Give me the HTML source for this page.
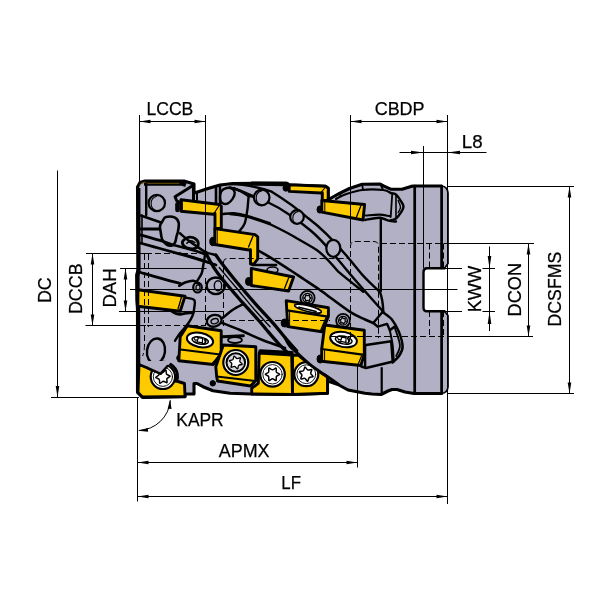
<!DOCTYPE html>
<html><head><meta charset="utf-8"><title>Milling cutter dimensions</title>
<style>
html,body{margin:0;padding:0;background:#fff;}
body{width:600px;height:600px;overflow:hidden;font-family:"Liberation Sans",sans-serif;}
svg{display:block;will-change:transform;}
svg text{font-family:"Liberation Sans",sans-serif;font-size:19.05px;fill:#000;stroke:#000;stroke-width:0.25px;}
</style></head>
<body>
<svg width="600" height="600" viewBox="0 0 600 600" role="img" aria-label="Milling cutter dimension drawing">
<rect width="600" height="600" fill="#fff"/>
<g id="cutter" stroke-linejoin="round" stroke-linecap="round">
<!-- silhouette -->
<path id="silfill" fill="#b1b0c4" stroke="none" d="M137.5,187 L140,182.5 L145,181 L184,181 L194,184 L194,193 L196,192.5 L208,188.5 L220,185 L233,183.5 L287,183.3 L289.2,184.9 L325.5,186.3 L328.2,188.2 L328.2,200 L332,197.5 L339,193.7 L349.5,188.5 L362.2,184.3 L380.2,184 L384,186.2 L390.7,189.2 L402,189.2 L411,186.4 L414,186 L441.5,186 Q447.5,186.5 448,193 L448,263.5 L444.5,268.3 L427,268.3 Q423.5,268.3 423.5,272 L423.5,307.5 Q423.5,311.3 427,311.3 L444.5,311.3 L448,315.5 L448,387 Q447.5,393 441.5,393.5 L414,393.5 L405,392 L397,389.5 L392,389.5 L388,391 L381,394.5 L372,394 L365,393.3 L348,390 L338,384.5 L330,381.7 L327.5,381.7 L327.5,393.3 L292.5,394.5 L251.7,394 L230,393.3 L213,390.8 L203,386.7 L197,383.5 L194,383.5 L194,394 L185,394 L185,396.7 L142.5,397.5 L137.5,392.5 L137.5,310 L137,300 L136.7,275 L138,270 Z"/>
<path id="silthick" fill="none" stroke="#000" stroke-width="3.1" d="M441.5,393.5 L414,393.5 L405,392 L397,389.5 L392,389.5 L388,391 L381,394.5 L372,394 L365,393.3 L348,390 L338,384.5 L330,381.7 L327.5,381.7 L327.5,393.3 L292.5,394.5 L251.7,394 L230,393.3 L213,390.8 L203,386.7 L197,383.5 L194,383.5 L194,394 L185,394 L185,396.7 L142.5,397.5 L137.5,392.5 L137.5,310 L137,300 L136.7,275 L138,270 L137.5,187 L140,182.5 L145,181 L184,181 L194,184 L194,193 L196,192.5 L208,188.5 L220,185 L233,183.5 L287,183.3 L289.2,184.9 L325.5,186.3 L328.2,188.2 L328.2,200 L332,197.5 L339,193.7 L349.5,188.5 L362.2,184.3 L380.2,184 L384,186.2 L390.7,189.2 L402,189.2 L411,186.4 L414,186 L441.5,186"/>
<path id="leftedge" fill="none" stroke="#000" stroke-width="4" stroke-linecap="butt" d="M138.4,188 L138.6,270 L137.6,276 L137.6,300 L138.2,310 L138.3,391"/>
<path fill="none" stroke="#000" stroke-width="4.4" stroke-linecap="round" d="M252,183.6 L286.5,184"/>
<path id="silthin" fill="none" stroke="#000" stroke-width="1.7" d="M441.5,186 Q447.5,186.5 448,193 L448,263.5 L444.5,268.3 M444.5,311.3 L448,315.5 L448,387 Q447.5,393 441.5,393.5"/>
<path id="keyway" fill="none" stroke="#000" stroke-width="2.4" d="M444.5,268.3 L427,268.3 Q423.5,268.3 423.5,272 L423.5,307.5 Q423.5,311.3 427,311.3 L444.5,311.3"/>

<!-- ===== internal lines (gray body features) ===== -->
<g fill="none" stroke="#000" stroke-width="2.4">
<!-- left block -->
<path stroke-width="5" stroke-linecap="butt" d="M144,183.3 H182.5 L186,184.6"/>
<path stroke="#6a5200" stroke-width="1" d="M146.5,183.3 H179 M139.5,185.3 L142,182.8 L145.5,182.2"/>
<path stroke-width="3" d="M193.5,184 V200"/>
<path stroke-width="2" d="M197,192.5 V200"/>
<path stroke-width="4.6" d="M177.5,204.3 V210"/>
<!-- right side shank lines -->
<path stroke-width="2.7" d="M414.7,186 V393.5 M441.6,186 V268 M441.6,311.5 V393.5"/>
<path stroke-width="2.4" d="M380.8,218 V291"/>
<path stroke-width="2.2" d="M381.7,368 V393.5"/>
<!-- flute curves -->
<path d="M230,184 C240,184 252,185 271.7,191.7 C290,203 300,211 308.3,218.3 C320,227 340,247 358.3,270 C366,280 375,287 380,292 C383,300 383,306 383.3,311.7"/>
<path d="M230,187.5 C236,189 242,191 246.7,193.3 C256,197 262,200 268.3,202.5 C278,207 284,211 288.3,214 C296,219 304,225 310,230 C320,238 332,252 346.7,270 C355,280 370,297 383.3,311.7"/>
<path d="M230,214 C236,214.5 242,215.5 246.7,216.7 C256,219 264,222 271.7,225 C282,230 290,234 296.7,238.3 C305,243 312,247 316.7,250 C324,255 330,262 338.3,271.7 C348,280 356,286 363.3,291.7"/>
<!-- seat of T5 -->
</g>
<g id="l-under">
<path fill="none" stroke="#000" stroke-width="2.4" d="M146.2,184.2 L146.2,215.0"/>
<path fill="none" stroke="#000" stroke-width="2.9" d="M192.5,185.8 L175.0,196.7 L176.7,200.8 L179.2,202.0"/>
<path fill="none" stroke="#000" stroke-width="2.4" d="M140.8,215.5 L162.5,223.0"/>
<path fill="none" stroke="#000" stroke-width="2.8" d="M140.8,229.0 L161.7,229.0"/>
<path fill="#b1b0c4" stroke="#000" stroke-width="2.6" d="M162.7,220.8 C163.7,219.3 163.9,217.5 166.0,217.0 C168.1,216.5 172.9,216.7 175.0,217.7 C177.1,218.7 178.2,220.8 178.7,223.0 C179.2,225.2 178.4,228.9 178.0,231.2 C177.6,233.4 177.0,234.6 176.5,236.5 C176.0,238.4 175.8,241.0 175.0,242.5 C174.2,244.0 173.4,245.1 172.0,245.5 C170.6,245.9 168.3,245.7 166.7,244.7 C165.0,243.7 163.2,241.6 162.2,239.5 C161.2,237.4 161.0,234.2 160.7,232.0 C160.3,229.8 159.7,227.9 160.0,226.0 C160.3,224.1 161.7,222.3 162.7,220.8Z"/>
<path fill="none" stroke="#000" stroke-width="2.8" d="M183.0,240.8 C183.9,239.6 186.3,237.7 188.3,237.3 C190.4,237.0 193.7,237.6 195.3,238.7 C197.0,239.7 198.3,242.1 198.3,243.7 C198.3,245.3 197.1,247.6 195.3,248.3 C193.5,249.1 189.6,248.6 187.5,248.0 C185.4,247.4 183.8,245.9 183.0,244.7 C182.2,243.5 182.1,242.1 183.0,240.8Z"/>
<path fill="none" stroke="#000" stroke-width="2.7" d="M140.8,235.0 C144.7,236.1 158.9,240.1 164.2,241.7 C169.4,243.3 169.6,243.8 172.5,244.7 C175.4,245.6 177.2,245.8 181.5,247.0 C185.8,248.2 193.8,250.3 198.0,251.7 C202.2,253.0 205.5,254.4 207.0,255.0"/>
<path fill="none" stroke="#000" stroke-width="2.7" d="M141.0,243.2 C144.2,244.1 153.2,246.6 160.0,248.5 C166.8,250.4 174.2,252.4 181.5,254.5 C188.8,256.6 198.2,259.4 204.0,261.2 C209.8,262.9 214.0,264.4 216.0,265.0"/>
<path fill="none" stroke="#000" stroke-width="2.0" d="M196.7,245.8 C197.4,246.4 199.6,248.2 200.8,249.2 C202.1,250.1 203.6,251.3 204.2,251.7"/>
<path fill="none" stroke="#000" stroke-width="1.4" d="M186.7,243.3 C187.4,242.9 189.4,241.0 190.8,240.8 C192.2,240.7 194.3,242.2 195.0,242.5"/>
<path fill="none" stroke="#000" stroke-width="1.6" d="M142.0,215.0 L142.0,243.3"/>
<path fill="none" stroke="#000" stroke-width="2.4" d="M226.7,188.0 C228.4,187.6 230.7,187.9 232.0,188.7 C233.3,189.4 234.6,191.0 234.7,192.7 C234.8,194.3 233.8,196.9 232.7,198.7 C231.6,200.4 229.7,202.6 228.0,203.3 C226.3,204.1 224.0,204.1 222.7,203.3 C221.3,202.6 220.2,200.7 220.0,198.7 C219.8,196.7 220.2,193.1 221.3,191.3 C222.4,189.6 224.9,188.4 226.7,188.0Z"/>
<path fill="none" stroke="#000" stroke-width="2.6" d="M216.0,187.3 L216.0,203.3"/>
<path fill="none" stroke="#000" stroke-width="2.5" d="M220.0,185.3 L220.0,203.3"/>
<path fill="none" stroke="#000" stroke-width="2.4" d="M234.0,188.0 C235.1,188.6 238.4,190.1 240.7,191.3 C242.9,192.6 245.3,194.4 247.3,195.3 C249.3,196.2 251.8,196.4 252.7,196.7"/>
<path fill="none" stroke="#000" stroke-width="2.4" d="M248.7,195.3 C248.6,196.7 248.2,200.9 248.0,203.3 C247.8,205.8 247.9,206.7 247.3,210.0 C246.8,213.3 246.0,219.8 244.7,223.3 C243.3,226.9 240.2,230.0 239.3,231.3"/>
<path fill="none" stroke="#000" stroke-width="2.4" d="M222.7,214.0 C224.6,213.9 229.9,213.0 234.0,213.3 C238.1,213.7 241.3,214.3 247.3,216.0 C253.3,217.7 266.2,222.1 270.0,223.3"/>
<path fill="none" stroke="#000" stroke-width="3.3" d="M215.8,255.0 C216.8,256.4 218.5,259.2 221.7,263.3 C224.9,267.5 229.4,273.3 235.0,280.0 C240.6,286.7 248.6,296.1 255.0,303.3 C261.4,310.6 268.3,317.6 273.3,323.3 C278.3,329.0 281.1,332.9 285.0,337.5 C288.9,342.1 294.7,348.6 296.7,350.8"/>
<path fill="none" stroke="#000" stroke-width="3.3" d="M205.0,251.7 C206.4,254.2 210.6,262.2 213.3,266.7 C216.1,271.1 216.9,272.5 221.7,278.3 C226.4,284.2 235.6,294.7 241.7,301.7 C247.8,308.6 254.2,315.3 258.3,320.0 C262.5,324.7 263.3,326.1 266.7,330.0 C270.0,333.9 274.4,339.2 278.3,343.3 C282.2,347.5 288.1,353.1 290.0,355.0"/>
<path fill="none" stroke="#000" stroke-width="1.4" d="M219.2,267.5 C222.1,271.0 231.0,281.5 236.7,288.3 C242.4,295.1 247.8,301.9 253.3,308.3 C258.9,314.7 267.2,323.6 270.0,326.7"/>
<path fill="none" stroke="#000" stroke-width="2.5" d="M222.5,318.0 C224.2,316.7 229.0,312.4 232.5,310.0 C236.0,307.6 241.9,304.8 243.8,303.8"/>
<path fill="none" stroke="#000" stroke-width="2.5" d="M221.2,322.5 C224.4,323.8 233.1,327.1 240.0,330.0 C246.9,332.9 255.0,337.0 262.5,340.0 C270.0,343.0 281.2,346.7 285.0,348.0"/>
<path fill="none" stroke="#000" stroke-width="2.6" d="M257.5,250.0 C260.0,251.5 267.1,255.4 272.5,258.8 C277.9,262.1 284.6,266.5 290.0,270.0 C295.4,273.5 300.0,276.7 305.0,280.0 C310.0,283.3 316.4,287.5 320.0,290.0 C323.6,292.5 321.8,291.4 326.8,295.0 C331.8,298.6 343.6,307.7 350.0,311.8 C356.4,315.8 361.1,317.6 365.0,319.5 C368.9,321.4 371.9,322.4 373.2,323.0"/>
<path fill="none" stroke="#000" stroke-width="2.4" d="M252.5,265.0 L276.2,265.0"/>
<ellipse cx="272.5" cy="270.0" rx="5.5" ry="3.0" fill="none" stroke="#000" stroke-width="1.6"/>
<path fill="none" stroke="#000" stroke-width="2.4" d="M180.0,253.3 C182.8,254.2 191.4,256.7 196.7,258.3 C201.9,260.0 209.2,262.5 211.7,263.3"/>
<path fill="none" stroke="#000" stroke-width="2.4" d="M180.0,233.3 C181.7,234.7 185.8,238.6 190.0,241.7 C194.2,244.7 200.7,249.4 205.0,251.7 C209.3,253.9 214.0,254.4 215.8,255.0"/>
<path fill="none" stroke="#000" stroke-width="2.4" d="M205.0,255.0 C204.7,256.7 203.9,261.9 203.3,265.0 C202.8,268.1 202.8,270.6 201.7,273.3 C200.6,276.1 197.5,280.3 196.7,281.7"/>
<ellipse cx="197.5" cy="287.5" rx="4.3" ry="5.0" fill="none" stroke="#000" stroke-width="2.2"/>
<ellipse cx="198.0" cy="287.5" rx="2.0" ry="2.7" fill="none" stroke="#000" stroke-width="1.2"/>
<ellipse cx="215.8" cy="285.8" rx="9.2" ry="8.3" fill="none" stroke="#000" stroke-width="2.4"/>
<ellipse cx="218.0" cy="285.8" rx="3.7" ry="5.0" fill="none" stroke="#000" stroke-width="1.4"/>
<ellipse cx="214.2" cy="320.8" rx="7.5" ry="5.8" fill="none" stroke="#000" stroke-width="2.4" transform="rotate(-15.0 214.2 320.8)"/>
<ellipse cx="214.7" cy="321.2" rx="3.7" ry="2.5" fill="none" stroke="#000" stroke-width="1.4" transform="rotate(-15.0 214.7 321.2)"/>
<ellipse cx="286.0" cy="188.0" rx="3.0" ry="3.2" fill="#000" stroke="#000" stroke-width="1.0"/>
<ellipse cx="319.8" cy="209.5" rx="2.8" ry="3.6" fill="#000" stroke="#000" stroke-width="1.0"/>
<ellipse cx="248.5" cy="281.5" rx="3.0" ry="4.0" fill="#000" stroke="#000" stroke-width="1.0"/>
<ellipse cx="284.5" cy="323.0" rx="3.4" ry="4.0" fill="#000" stroke="#000" stroke-width="1.0"/>
<ellipse cx="212.8" cy="241.5" rx="3.0" ry="4.2" fill="#000" stroke="#000" stroke-width="1.0"/>
<ellipse cx="320.0" cy="359.0" rx="3.0" ry="4.0" fill="#000" stroke="#000" stroke-width="1.0"/>
<ellipse cx="179.5" cy="358.0" rx="2.8" ry="2.8" fill="#000" stroke="#000" stroke-width="1.0"/>
<path fill="none" stroke="#000" stroke-width="2.8" d="M140.8,272.5 C143.2,273.2 150.1,275.3 155.0,276.7 C159.9,278.1 165.8,279.7 170.0,280.8 C174.2,281.9 178.3,282.9 180.0,283.3"/>
<path fill="none" stroke="#000" stroke-width="2.5" d="M179.2,285.8 C180.1,285.3 182.6,283.3 185.0,282.5 C187.4,281.7 191.0,280.6 193.3,280.8 C195.7,281.1 198.2,283.6 199.2,284.2"/>
<path fill="none" stroke="#000" stroke-width="2.2" d="M336.0,199.0 C337.5,198.2 340.6,196.0 345.0,194.5 C349.4,193.0 355.9,190.7 362.2,190.0 C368.6,189.2 378.5,189.5 383.2,190.0 C388.0,190.5 389.5,192.5 390.7,193.0"/>
<path fill="none" stroke="#000" stroke-width="1.8" d="M362.2,184.3 L363.0,190.0"/>
<path fill="none" stroke="#000" stroke-width="1.8" d="M380.2,184.0 L383.2,190.0"/>
<path fill="none" stroke="#000" stroke-width="1.8" d="M339.0,193.7 L341.2,196.0"/>
<path fill="none" stroke="#000" stroke-width="2.4" d="M390.7,193.0 C391.6,193.2 394.4,193.2 396.0,194.5 C397.6,195.7 399.2,198.5 400.5,200.5 C401.7,202.5 403.5,204.4 403.5,206.5 C403.5,208.6 401.7,211.2 400.5,213.2 C399.2,215.2 397.7,217.2 396.0,218.5 C394.2,219.7 391.0,220.4 390.0,220.7"/>
<path fill="none" stroke="#000" stroke-width="1.8" d="M392.2,194.5 L390.7,217.0"/>
<path fill="none" stroke="#000" stroke-width="1.6" d="M396.0,195.2 L396.0,217.7"/>
<path fill="none" stroke="#000" stroke-width="1.4" d="M398.2,200.5 C398.6,201.6 400.5,205.2 400.5,207.2 C400.5,209.2 398.6,211.6 398.2,212.5"/>
<path fill="none" stroke="#000" stroke-width="2.2" d="M366.0,215.5 C368.2,215.4 375.5,214.6 379.5,214.7 C383.5,214.9 388.2,216.0 390.0,216.2"/>
<path fill="none" stroke="#000" stroke-width="2.4" d="M365.2,220.0 C367.6,219.6 375.6,217.6 379.5,217.7 C383.4,217.9 385.7,220.1 388.5,220.7 C391.2,221.4 394.7,221.4 396.0,221.5"/>
<path fill="none" stroke="#000" stroke-width="2.4" d="M382.5,312.0 L373.3,323.0 L377.9,326.7 L387.1,323.9 L389.8,330.3 L394.4,326.7"/>
<path fill="none" stroke="#000" stroke-width="2.5" d="M382.5,312.0 C384.0,313.2 388.9,316.0 391.7,319.3 C394.4,322.7 397.1,327.6 399.0,332.1 C400.8,336.7 402.6,342.8 402.6,346.8 C402.6,350.8 400.7,353.4 399.0,356.0 C397.3,358.6 393.6,361.3 392.6,362.4"/>
<path fill="none" stroke="#000" stroke-width="2.0" d="M389.8,330.3 C390.3,332.8 391.9,339.8 392.6,345.0 C393.2,350.2 393.6,358.7 393.8,361.5"/>
<path fill="none" stroke="#000" stroke-width="1.8" d="M394.4,326.7 C395.3,329.7 399.6,340.1 399.9,345.0 C400.2,349.9 396.8,354.1 396.2,356.0"/>
<path fill="none" stroke="#000" stroke-width="2.6" d="M366.0,345.0 L391.1,341.3"/>
<path fill="none" stroke="#000" stroke-width="2.4" d="M365.1,345.0 L365.1,367.0"/>
<path fill="none" stroke="#000" stroke-width="2.6" d="M361.4,366.6 L366.0,367.9 L392.2,361.8"/>
<path fill="none" stroke="#000" stroke-width="2.2" d="M391.1,341.3 L392.6,362.4"/>
</g>
<circle cx="307.5" cy="298.0" r="7.1" fill="#b1b0c4" stroke="#000" stroke-width="1.8"/><circle cx="307.5" cy="298.0" r="4.7" fill="none" stroke="#000" stroke-width="1.3"/><path d="M311.2,298.0 C311.2,298.4 309.8,298.6 309.5,299.1 C309.2,299.7 309.7,301.0 309.4,301.2 C309.0,301.4 308.1,300.3 307.5,300.3 C306.9,300.3 306.0,301.4 305.6,301.2 C305.3,301.0 305.8,299.7 305.5,299.1 C305.2,298.6 303.8,298.4 303.8,298.0 C303.8,297.6 305.2,297.4 305.5,296.9 C305.8,296.3 305.3,295.0 305.6,294.8 C306.0,294.6 306.9,295.7 307.5,295.7 C308.1,295.7 309.0,294.6 309.4,294.8 C309.7,295.0 309.2,296.3 309.5,296.9 C309.8,297.4 311.2,297.6 311.2,298.0Z" fill="#d0d0d8" stroke="#000" stroke-width="1.2"/>
<circle cx="343.0" cy="320.7" r="6.8" fill="#b1b0c4" stroke="#000" stroke-width="1.8"/><circle cx="343.0" cy="320.7" r="4.4" fill="none" stroke="#000" stroke-width="1.3"/><path d="M346.3,321.6 C346.2,321.9 344.9,321.8 344.5,322.2 C344.1,322.6 344.2,323.9 343.9,324.0 C343.5,324.1 343.0,322.9 342.5,322.7 C341.9,322.6 340.8,323.4 340.6,323.1 C340.3,322.9 341.1,321.8 341.0,321.2 C340.8,320.7 339.6,320.2 339.7,319.8 C339.8,319.5 341.1,319.6 341.5,319.2 C341.9,318.8 341.8,317.5 342.1,317.4 C342.5,317.3 343.0,318.5 343.5,318.7 C344.1,318.8 345.2,318.0 345.4,318.3 C345.7,318.5 344.9,319.6 345.0,320.2 C345.2,320.7 346.4,321.2 346.3,321.6Z" fill="#d0d0d8" stroke="#000" stroke-width="1.2"/>
<!-- ===== yellow inserts ===== -->
<g fill="#fecb00" stroke="#000" stroke-width="2.9">
<!-- T1 -->
<path d="M181,199.7 L219.5,204.5 L221.3,206 L221.3,228.5 L215,228.5 L215,213.5 L213.3,214.2 L181,211.2Z"/>
<path fill="none" stroke-width="1" d="M182.3,201.5 V210"/>
<path fill="none" stroke-width="1.2" d="M219.5,205 L214,213.5"/>
<!-- T2 -->
<path d="M214.8,228.6 L255,234.6 L257.7,236.8 L257.7,259 L254,264 L250.5,264 L250.5,249.7 L249,250 L214.8,244.5Z"/>
<path fill="none" stroke-width="1" d="M217.2,230.5 V243.5"/>
<path fill="none" stroke-width="1.3" d="M253,236 L248.5,247"/>
<!-- T3 -->
<path d="M251.3,268.4 L293.6,277 L288.6,291 L251.3,285.5Z"/>
<path fill="none" stroke-width="1.3" d="M289,277 L284.5,288.5"/>
<!-- U1 -->
<path d="M289.2,184.9 L325.5,186.3 L328.2,188.2 L328.2,200.5 L322.3,200.5 L322.3,192.8 L321,193 L289.2,191.4Z"/>
<path fill="none" stroke-width="1.2" d="M325.5,187 L321.5,192"/>
<!-- U2 -->
<path d="M321.8,200.5 L364.6,204.5 L363,220 L321.8,212.2Z"/>
<path fill="none" stroke-width="1" d="M324.8,202 V211.5"/>
<path fill="none" stroke-width="1.3" d="M361,205.5 L356.5,217"/>
<!-- L1 -->
<path d="M138,289.8 L185,296.2 L180.2,311.2 L137.8,306.3Z"/>
<path fill="none" stroke-width="1.3" d="M181.5,297 L178,309"/>
<!-- T4 -->
<path d="M286.2,300.6 L328.4,307.8 L328.4,316.5 L322,331.7 L287.8,326.6Z"/>
<path fill="none" stroke-width="1" d="M289.6,311 V326"/>
<path fill="none" stroke-width="2.2" d="M287,310.3 L328,316.7"/><path fill="none" stroke-width="1.2" d="M326,317.5 L320.5,330.5"/>
<!-- T5 -->
<path d="M324.8,325 L364.3,330.3 L364.3,354.5 L360.8,365.5 L321.7,361.3 L321.7,349Z"/>
<path fill="none" stroke-width="1" d="M324.6,350.5 V361"/>
<path fill="none" stroke-width="2.2" d="M321.7,349 L364.3,354.8"/><path fill="none" stroke-width="1.2" d="M361.5,356 L358,364.5"/>
<!-- B1 -->
<path d="M187.3,325.8 L221.2,330.8 L221.2,353 L213.3,364.5 L178.8,360.8 L179.5,349.5 L180.2,336.8Z"/>
<path fill="none" stroke-width="1.8" d="M180.5,349.5 L220.3,354.5"/><path fill="none" stroke-width="1.2" d="M219,356 L212.5,363"/>
<!-- B2 -->
<path d="M223.3,345 L255.8,346.7 L255.8,380.5 L250.5,386 L217.5,381 L216.7,376.7 L215.8,366.7Z"/>
<path fill="none" stroke-width="2" d="M216.7,376.5 L255.5,381"/>
<!-- B3 -->
<path d="M259.2,353 L291.7,355 L292.5,394.5 L251.7,394 L251.7,388.3 L258.3,383.3Z"/>
<!-- B4 -->
<path d="M292.5,355 L298.5,355.3 L309.2,363.8 L318.5,370.8 L327.5,377 L327.5,393.3 L292.5,394.5Z"/>
<!-- B0 corner insert -->
<path d="M139,364.5 L147.5,368 L155,371.5 L162,377 L175,380.5 L184.5,383.5 L185,396.5 L142.5,397 L138,392.5Z"/>
<path fill="#b1b0c4" d="M150,368.5 L160,362.5 A14.6,14.6 0 0 1 177.5,378 L176,381 L162,380Z"/>
</g>
<g id="l-mid">
<path fill="none" stroke="#000" stroke-width="2.4" d="M185.0,297.5 C186.5,297.9 192.6,298.2 194.2,300.0 C195.7,301.8 194.4,305.7 194.2,308.3 C193.9,311.0 193.5,313.3 192.5,315.8 C191.5,318.3 190.4,320.4 188.3,323.3 C186.2,326.2 182.2,330.4 180.0,333.3 C177.8,336.2 175.8,339.6 175.0,340.8"/>
<path fill="none" stroke="#000" stroke-width="2.8" d="M171.7,311.3 C172.8,311.8 176.1,313.8 178.3,314.2 C180.6,314.5 182.5,313.6 185.0,313.3 C187.5,313.1 191.9,312.6 193.3,312.5"/>
<path fill="none" stroke="#000" stroke-width="3.0" d="M222.5,336.7 L243.3,335.8"/>
<ellipse cx="235.0" cy="340.0" rx="7.0" ry="3.0" fill="none" stroke="#000" stroke-width="1.8"/>
<path fill="none" stroke="#000" stroke-width="4.0" d="M260.3,351.3 L291.7,353.0"/>
<ellipse cx="212.8" cy="383.3" rx="2.7" ry="2.7" fill="#000" stroke="#000" stroke-width="1.0"/>
</g>
<!-- ===== screws & holes ===== -->
<g fill="#fff" stroke="#000" stroke-width="2">
<!-- oval holes on inserts -->
<ellipse cx="308" cy="308.6" rx="13.8" ry="2.9" transform="rotate(14 308 308.6)" stroke-width="1.6"/><path d="M299,307.2 L316,311.5" fill="none" stroke-width="1.7"/>
</g>
<g fill="#b1b0c4" stroke="#000" stroke-width="2.2">
<!-- body holes -->
<circle cx="156.8" cy="203" r="8.2"/><path d="M156.6,210.9 A7.6,7.6 0 0 1 156.6,196.3" fill="none" stroke-width="1.1"/>
<circle cx="261.7" cy="197.5" r="7.8"/><path d="M261.7,204.9 A7.2,7.2 0 0 1 261.7,190.9" fill="none" stroke-width="1.1"/>
<circle cx="297" cy="217" r="6.8"/><path d="M297.0,223.9 A6.4,6.4 0 0 1 298.1,211.6" fill="none" stroke-width="1.1"/>
<ellipse cx="333.3" cy="248.3" rx="7" ry="8.5"/>
<!-- slot near bottom-left -->
<ellipse cx="156" cy="351" rx="9" ry="12.6" transform="rotate(8 156 351)" stroke-width="2.4"/>
</g>
<g transform="rotate(11 200 340)"><ellipse cx="200" cy="340" rx="13.3" ry="7.1" fill="#fff" stroke="#000" stroke-width="2.0"/><ellipse cx="200.3" cy="340.5" rx="8.3" ry="3.5" fill="#f4f4f6" stroke="#000" stroke-width="1.5"/><path d="M198.0,338.0 h4.2 l0.7,4.4 h-5.4z" fill="#fff" stroke="#000" stroke-width="1.2"/><path d="M193.8,339.2 q1.2,2.6 3.0,1.4 M195.2,337.4 q1.5,-0.6 2.2,0.8 M203.8,338.2 q2.4,1.6 1.4,4 M205.4,338.6 q1.4,1.2 0.6,2.6 M195.4,342.6 l2.2,0.6 M203,343.2 l2.6,-0.8" fill="none" stroke="#000" stroke-width="1.2"/></g>
<g transform="rotate(11 343.5 339.5)"><ellipse cx="343.5" cy="339.5" rx="13.5" ry="7.5" fill="#fff" stroke="#000" stroke-width="2.0"/><ellipse cx="343.8" cy="340.0" rx="8.5" ry="3.9" fill="#f4f4f6" stroke="#000" stroke-width="1.5"/><path d="M341.5,337.5 h4.2 l0.7,4.4 h-5.4z" fill="#fff" stroke="#000" stroke-width="1.2"/><path d="M337.3,338.7 q1.2,2.6 3.0,1.4 M338.7,336.9 q1.5,-0.6 2.2,0.8 M347.3,337.7 q2.4,1.6 1.4,4 M348.9,338.1 q1.4,1.2 0.6,2.6 M338.9,342.1 l2.2,0.6 M346.5,342.7 l2.6,-0.8" fill="none" stroke="#000" stroke-width="1.2"/></g>
<circle cx="162.9" cy="376.8" r="12.2" fill="#fff" stroke="#000" stroke-width="2.2"/><circle cx="162.9" cy="376.8" r="9.6" fill="none" stroke="#000" stroke-width="0.9"/><path d="M170.1,376.2 C170.1,376.9 167.5,377.6 166.9,378.7 C166.4,379.8 167.6,382.3 167.0,382.7 C166.4,383.1 164.5,381.1 163.3,381.2 C162.1,381.4 160.5,383.6 159.9,383.3 C159.2,383.0 159.9,380.3 159.2,379.4 C158.6,378.4 155.8,378.2 155.7,377.4 C155.7,376.7 158.3,376.0 158.9,374.9 C159.4,373.8 158.2,371.3 158.8,370.9 C159.4,370.5 161.3,372.5 162.5,372.4 C163.7,372.2 165.3,370.0 165.9,370.3 C166.6,370.6 165.9,373.3 166.6,374.2 C167.2,375.2 170.0,375.4 170.1,376.2Z" fill="#fff" stroke="#000" stroke-width="1.5"/><path d="M148,367.5 L160.6,373.7 L167.5,366 L172,361 L148,361Z" fill="#b1b0c4" stroke="none"/><path d="M147.5,367.8 L160.6,373.9 L167.5,366" fill="none" stroke="#000" stroke-width="2.4"/>
<circle cx="235.8" cy="362.5" r="12.5" fill="#fff" stroke="#000" stroke-width="2.2"/><circle cx="235.8" cy="362.5" r="9.3" fill="#d8d8de" stroke="#000" stroke-width="2"/><path d="M242.2,364.2 C242.0,364.9 239.5,364.6 238.7,365.4 C237.9,366.2 238.2,368.7 237.5,368.9 C236.8,369.1 235.8,366.7 234.7,366.5 C233.7,366.2 231.6,367.6 231.1,367.2 C230.7,366.7 232.1,364.6 231.8,363.6 C231.6,362.5 229.2,361.5 229.4,360.8 C229.6,360.1 232.1,360.4 232.9,359.6 C233.7,358.8 233.4,356.3 234.1,356.1 C234.8,355.9 235.8,358.3 236.9,358.5 C237.9,358.8 240.0,357.4 240.5,357.8 C240.9,358.3 239.5,360.4 239.8,361.4 C240.0,362.5 242.4,363.5 242.2,364.2Z" fill="#fff" stroke="#000" stroke-width="1.3"/>
<circle cx="272.5" cy="374.3" r="12.3" fill="#fff" stroke="#000" stroke-width="2.2"/><circle cx="272.5" cy="374.3" r="9.7" fill="none" stroke="#000" stroke-width="0.9"/><path d="M279.7,374.3 C279.7,375.0 277.0,375.5 276.4,376.5 C275.8,377.6 276.7,380.2 276.1,380.5 C275.5,380.9 273.7,378.8 272.5,378.8 C271.3,378.8 269.5,380.9 268.9,380.5 C268.3,380.2 269.2,377.6 268.6,376.5 C268.0,375.5 265.3,375.0 265.3,374.3 C265.3,373.6 268.0,373.1 268.6,372.1 C269.2,371.0 268.3,368.4 268.9,368.1 C269.5,367.7 271.3,369.8 272.5,369.8 C273.7,369.8 275.5,367.7 276.1,368.1 C276.7,368.4 275.8,371.0 276.4,372.1 C277.0,373.1 279.7,373.6 279.7,374.3Z" fill="#fff" stroke="#000" stroke-width="1.5"/>
<circle cx="306.3" cy="374.2" r="12.0" fill="#fff" stroke="#000" stroke-width="2.2"/><circle cx="306.3" cy="374.2" r="9.4" fill="none" stroke="#000" stroke-width="0.9"/><path d="M313.1,376.7 C312.8,377.4 310.1,376.8 309.2,377.6 C308.3,378.4 308.3,381.2 307.6,381.3 C306.8,381.4 305.9,378.8 304.8,378.4 C303.6,378.0 301.3,379.4 300.8,378.8 C300.3,378.3 302.1,376.2 301.9,375.0 C301.7,373.8 299.3,372.4 299.5,371.7 C299.8,371.0 302.5,371.6 303.4,370.8 C304.3,370.0 304.3,367.2 305.0,367.1 C305.8,367.0 306.7,369.6 307.8,370.0 C309.0,370.4 311.3,369.0 311.8,369.6 C312.3,370.1 310.5,372.2 310.7,373.4 C310.9,374.6 313.3,376.0 313.1,376.7Z" fill="#fff" stroke="#000" stroke-width="1.5"/>
<g id="l-over">
<path fill="#b1b0c4" stroke="none" stroke-width="0.0" d="M298.5,354.5 L309.2,363.8 L318.5,370.8 L324.0,374.5 L326.5,371.0 L320.0,366.0 L310.0,358.0 L302.0,351.5Z"/>
<path fill="none" stroke="#000" stroke-width="3.0" d="M285.0,337.5 C285.7,338.8 287.2,342.6 289.3,345.2 C291.4,347.8 294.2,350.2 297.5,353.3 C300.8,356.4 305.7,360.9 309.2,363.8 C312.7,366.7 315.2,368.5 318.5,370.8 C321.8,373.1 325.7,375.5 329.0,377.8 C332.3,380.1 336.9,383.3 338.5,384.4"/>
</g>
<!-- ===== hidden (dashed) lines ===== -->
<g fill="none" stroke="#000" stroke-width="1" stroke-dasharray="6 3" stroke-linecap="butt">
<path d="M146,253.5 H205"/>
<path d="M144.5,254 V345 Q144.5,352 142.5,356"/>
<path d="M148.5,254 V327"/>
<path d="M147,325.5 H205"/>
<path d="M205.5,278 V326"/>
<path d="M223.5,326 V262 Q223.5,258.5 228,258.5 H350"/>
<path d="M350.5,338 V246 Q350.5,241.5 355,241.5 H374 Q378.5,241.5 378.5,246 V338"/>
<path d="M381,243.5 H447"/>
<path d="M230,320.5 H330"/>
<path d="M330,336.5 H447"/>
<path d="M429.5,243.5 V268 M429.5,311 V337"/>
<path d="M443.5,243.5 V268 M443.5,311 V337"/>
</g>
</g>


<g fill="none" stroke="#000" stroke-width="1">
<!-- LCCB -->
<path d="M139.5,115 V181 M205.5,115 V256 M139.5,121.5 H205.5"/>
<!-- CBDP -->
<path d="M350.5,115 V243 M447.5,115 V504 M350.5,121.5 H447.5"/>
<!-- L8 -->
<path d="M423.5,146 V268 M399.5,152.5 H486.5"/>
<!-- DC -->
<path d="M57.5,170.5 V397 M51,397.5 H139"/>
<!-- DCCB -->
<path d="M92.5,253.5 V325.5 M86,253.5 H146 M85.5,325.5 H146"/>
<!-- DAH -->
<path d="M125.5,268.5 V311.5 M120,268.5 H206.5 M119,311.5 H223"/>
<!-- centre line -->
<path d="M130,289.5 H457.5"/>
<!-- KWW -->
<path d="M489.5,246.5 V331 M444,268.5 H462 M482.5,268.5 H495 M444,311.5 H462 M482.5,311.5 H495"/>
<!-- DCON -->
<path d="M528.5,243.5 V336.5 M447.5,243.5 H534 M447.5,336.5 H533"/>
<!-- DCSFMS -->
<path d="M569.5,186.5 V393.5 M447.5,186.5 H574 M447.5,393.5 H574"/>
<!-- APMX / LF -->
<path d="M137.5,397 V501.5 M357.5,365 V467.5 M137.5,462.5 H357.5 M137.5,496.5 H447.5"/>
<!-- KAPR arc -->
<path d="M170.4,400.5 A33,33 0 0 1 139,430.5"/>
</g>

<g fill="#000" stroke="none">
<path d="M139.50,121.50 L150.50,119.70 L150.50,123.30Z"/>
<path d="M205.50,121.50 L194.50,123.30 L194.50,119.70Z"/>
<path d="M350.50,121.50 L361.50,119.70 L361.50,123.30Z"/>
<path d="M447.50,121.50 L436.50,123.30 L436.50,119.70Z"/>
<path d="M423.50,152.50 L411.00,154.30 L411.00,150.70Z"/>
<path d="M447.50,152.50 L460.00,150.70 L460.00,154.30Z"/>
<path d="M57.50,397.00 L55.70,386.00 L59.30,386.00Z"/>
<path d="M92.50,253.50 L94.30,264.50 L90.70,264.50Z"/>
<path d="M92.50,325.50 L90.70,314.50 L94.30,314.50Z"/>
<path d="M125.50,268.50 L127.30,279.50 L123.70,279.50Z"/>
<path d="M125.50,311.50 L123.70,300.50 L127.30,300.50Z"/>
<path d="M489.50,268.50 L487.70,256.00 L491.30,256.00Z"/>
<path d="M489.50,311.50 L491.30,324.00 L487.70,324.00Z"/>
<path d="M528.50,243.50 L530.30,254.50 L526.70,254.50Z"/>
<path d="M528.50,336.50 L526.70,325.50 L530.30,325.50Z"/>
<path d="M569.50,186.50 L571.30,197.50 L567.70,197.50Z"/>
<path d="M569.50,393.50 L567.70,382.50 L571.30,382.50Z"/>
<path d="M137.50,462.50 L148.50,460.70 L148.50,464.30Z"/>
<path d="M357.50,462.50 L346.50,464.30 L346.50,460.70Z"/>
<path d="M137.50,496.50 L148.50,494.70 L148.50,498.30Z"/>
<path d="M447.50,496.50 L436.50,498.30 L436.50,494.70Z"/>
<path d="M170.10,399.30 L171.55,408.89 L167.66,408.68Z"/><path d="M138.00,430.80 L147.80,428.09 L148.12,431.77Z"/>
</g>
<g>
<text x="146.46" y="115.00" textLength="46.84" lengthAdjust="spacingAndGlyphs">LCCB</text>
<text x="374.69" y="115.00" textLength="49.86" lengthAdjust="spacingAndGlyphs">CBDP</text>
<text x="461.76" y="148.00" textLength="20.83" lengthAdjust="spacingAndGlyphs">L8</text>
<text x="176.27" y="425.80" textLength="47.43" lengthAdjust="spacingAndGlyphs">KAPR</text>
<text x="218.77" y="457.00" textLength="50.74" lengthAdjust="spacingAndGlyphs">APMX</text>
<text x="281.32" y="489.30" textLength="19.62" lengthAdjust="spacingAndGlyphs">LF</text>
<text transform="rotate(-90)" x="-303.07" y="51.30" textLength="25.84" lengthAdjust="spacingAndGlyphs">DC</text>
<text transform="rotate(-90)" x="-314.07" y="82.00" textLength="50.72" lengthAdjust="spacingAndGlyphs">DCCB</text>
<text transform="rotate(-90)" x="-307.62" y="115.50" textLength="39.21" lengthAdjust="spacingAndGlyphs">DAH</text>
<text transform="rotate(-90)" x="-312.30" y="481.30" textLength="46.60" lengthAdjust="spacingAndGlyphs">KWW</text>
<text transform="rotate(-90)" x="-316.49" y="520.50" textLength="53.50" lengthAdjust="spacingAndGlyphs">DCON</text>
<text transform="rotate(-90)" x="-326.45" y="561.30" textLength="74.66" lengthAdjust="spacingAndGlyphs">DCSFMS</text>
</g>
</svg>
</body></html>
